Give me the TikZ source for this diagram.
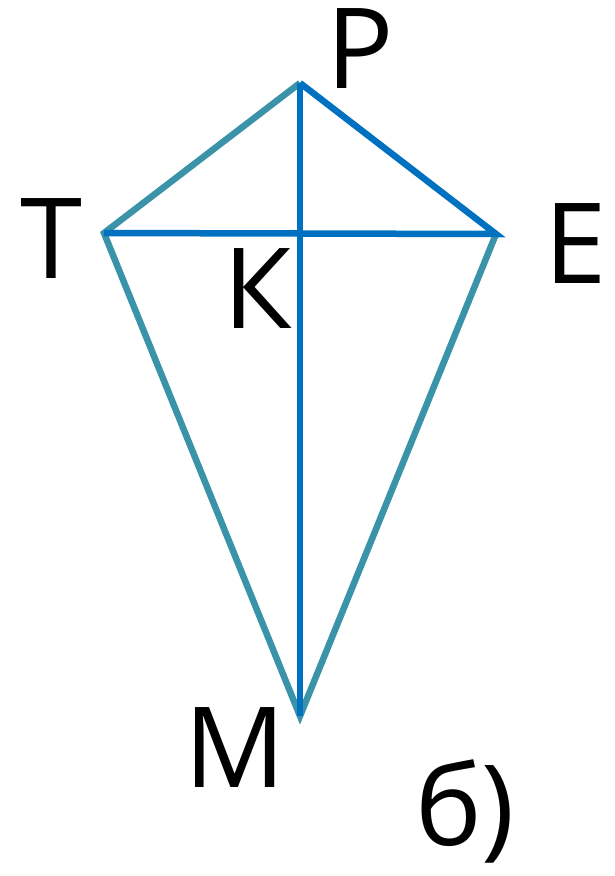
\documentclass[tikz,border=0pt]{standalone}
\usepackage{fontspec}
\setmainfont{Open Sans}
\definecolor{tealc}{HTML}{3A93A8}
\definecolor{bluec}{HTML}{0070C0}
\begin{document}
\begin{tikzpicture}[x=1pt,y=-1pt,
  lbl/.style={inner sep=0pt,anchor=base,font=\fontsize{112}{112}\selectfont},
  edge/.style={line width=6.5pt,line join=miter}]
\useasboundingbox (0,0) rectangle (615,876);
\coordinate (P) at (300,83);
\coordinate (T) at (104,233);
\coordinate (E) at (496,234);
\coordinate (M) at (300,716);
\draw[edge,tealc] (P) -- (T) -- (M) -- (E);
\draw[edge,bluec] (T) -- (E) -- (P);
\draw[edge,bluec] (P) -- (M);
\node[lbl] (lP) at (360,88) {Р};
\node[lbl] (lT) at (51,278) {Т};
\node[lbl] (lK) at (258,328) {К};
\node[lbl] (lE) at (576,283) {Е};
\node[lbl] (lM) at (235,787) {М};
\node[lbl] (lb) at (465,845) {б)};
\end{tikzpicture}
\end{document}
